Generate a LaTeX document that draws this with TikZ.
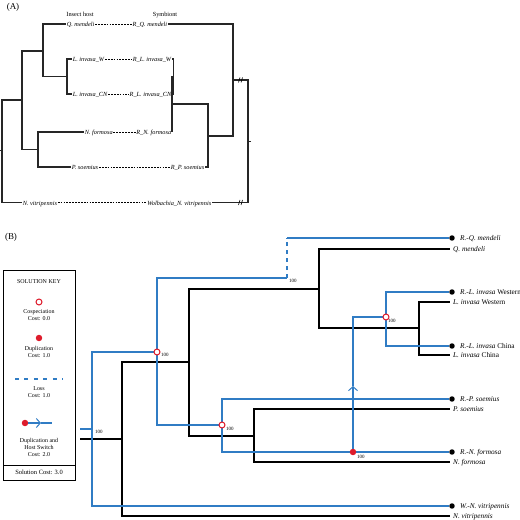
\documentclass[tikz,border=0pt]{standalone}
\usepackage{fontspec}
\setmainfont{Liberation Serif}
\usetikzlibrary{positioning,arrows.meta}
\definecolor{parablue}{RGB}{48,124,196}
\definecolor{eventred}{RGB}{222,28,44}
\tikzset{
    hosttree/.style={line width=1.2pt},
    cophytree/.style={line width=1.15pt,black!85},
    paratree/.style={parablue,line width=1.2pt},
    linkline/.style={line width=0.7pt,dash pattern=on 1.8pt off 1.1pt},
    losspath/.style={parablue,line width=1.2pt,dash pattern=on 4pt off 4pt},
    switchtip/.style={-{Straight Barb[length=4pt,width=9pt,line width=1pt]}},
    cospec/.style={circle,draw=eventred,fill=white,line width=1pt,inner sep=0pt,minimum size=6pt},
    dupl/.style={circle,fill=eventred,inner sep=0pt,minimum size=6.5pt},
    tipdot/.style={circle,fill=black,inner sep=0pt,minimum size=5.5pt},
    anames/.style={font=\fontsize{6.3}{7}\selectfont\itshape,inner sep=0.6pt,text height=1.5ex,text depth=0.25ex},
    bnames/.style={font=\fontsize{7.3}{8}\selectfont,inner sep=0pt,text height=1.5ex,text depth=0.25ex},
    support/.style={font=\fontsize{5}{5}\selectfont,inner sep=0pt,anchor=north west},
    keytext/.style={font=\fontsize{6}{7}\selectfont,align=center,inner sep=0pt},
    panel/.style={font=\fontsize{9}{10}\selectfont,inner sep=0pt}
}
\begin{document}
\begin{tikzpicture}[x=1bp,y=-1bp]
    \useasboundingbox (0,0) rectangle (520,520);
    %% ---------------- (A) tanglegram ----------------
    \node[panel] (labA) at (13,7) {(A)};
    \node[anames,font=\fontsize{6.3}{7}\selectfont] (hosthead) at (80,14) {Insect host};
    \node[anames,font=\fontsize{6.3}{7}\selectfont] (symbhead) at (165,14) {Symbiont};
    %% host names
    \node[anames,anchor=west] (hq) at (66,24) {Q. mendeli};
    \node[anames,anchor=west] (hlw) at (72,59) {L. invasa\_W};
    \node[anames,anchor=west] (hlcn) at (72,94) {L. invasa\_CN};
    \node[anames,anchor=west] (hnf) at (84,132) {N. formosa};
    \node[anames,anchor=west] (hps) at (71,167) {P. soemius};
    \node[anames,anchor=west] (hnv) at (22,202.5) {N. vitripennis};
    %% symbiont names
    \node[anames,anchor=east] (sq) at (168,24) {R\_Q. mendeli};
    \node[anames,anchor=east] (slw) at (172,59) {R\_L. invasa\_W};
    \node[anames,anchor=east] (slcn) at (172,94) {R\_L. invasa\_CN};
    \node[anames,anchor=east] (snf) at (172,132) {R\_N. formosa};
    \node[anames,anchor=east] (sps) at (205,167) {R\_P. soemius};
    \node[anames,anchor=east] (snv) at (212,202.5) {Wolbachia\_N. vitripennis};
    \foreach \h/\s in {hq/sq,hlw/slw,hlcn/slcn,hnf/snf,hps/sps,hnv/snv}
        \draw[linkline] (\h.east) -- (\s.west);
    %% host tree
    \coordinate (hstub) at (0,150.5);
    \coordinate (hroot) at (2,150.5);
    \coordinate (hQLNP) at (22,100);
    \coordinate (hQL) at (43,51);
    \coordinate (hL) at (67,76.5);
    \coordinate (hNP) at (38,149.5);
    \draw[cophytree] (hstub) -- (hroot) (hroot) |- (hQLNP) (hroot) |- (hnv.west)
        (hQLNP) |- (hQL) (hQLNP) |- (hNP) (hQL) |- (hq.west) (hQL) |- (hL)
        (hL) |- (hlw.west) (hL) |- (hlcn.west) (hNP) |- (hnf.west) (hNP) |- (hps.west);
    %% symbiont tree
    \coordinate (sstub) at (251,141.5);
    \coordinate (sroot) at (248,141.5);
    \coordinate (sQR) at (233,80);
    \coordinate (sRP) at (208,136);
    \coordinate (sLN) at (172,104);
    \coordinate (sL) at (173.5,76.5);
    \draw[cophytree] (sstub) -- (sroot) (sroot) |- (sQR) (sroot) |- (snv.east)
        (sQR) |- (sq.east) (sQR) |- (sRP) (sRP) |- (sLN) (sRP) |- (sps.east)
        (sLN) |- (sL) (sLN) |- (snf.east) (sL) |- (slw.east) (sL) |- (slcn.east);
    %% breaks on the root branches
    \foreach \y in {80,202.5}
        \draw[line width=0.6pt] (238.5,\y+2.5) -- (240,\y-2.5) (241,\y+2.5) -- (242.5,\y-2.5);
    %% ---------------- (B) reconciliation ----------------
    \node[panel] (labB) at (11,237) {(B)};
    %% solution key
    \coordinate (keyNW) at (3,270);
    \coordinate (keySE) at (75,480);
    \coordinate (keysepL) at (3,465);
    \coordinate (keysepR) at (75,465);
    \draw[line width=0.9pt] (keyNW) rectangle (keySE);
    \draw[line width=0.9pt] (keysepL) -- (keysepR);
    \node[keytext] (keytitle) at (39,282) {SOLUTION KEY};
    \node[cospec] (keycospec) at (39,302) {};
    \node[keytext] (keycospectxt) at (39,315) {Cospeciation\\Cost: 0.0};
    \node[dupl] (keydupl) at (39,338) {};
    \node[keytext] (keydupltxt) at (39,352) {Duplication\\Cost: 1.0};
    \coordinate (keylossA) at (15,379);
    \coordinate (keylossB) at (63,379);
    \draw[losspath,line width=1.4pt,dash pattern=on 4pt off 5.5pt] (keylossA) -- (keylossB);
    \node[keytext] (keylosstxt) at (39,392.5) {Loss\\Cost: 1.0};
    \node[dupl] (keyhsdot) at (25,423) {};
    \coordinate (keyhsmid) at (41,423);
    \coordinate (keyhsend) at (52,423);
    \draw[paratree,switchtip] (keyhsdot) -- (keyhsmid);
    \draw[paratree] (keyhsmid) -- (keyhsend);
    \node[keytext] (keyhstxt) at (39,447) {Duplication and\\Host Switch\\Cost: 2.0};
    \node[keytext,font=\fontsize{6.5}{7}\selectfont] (keytotal) at (39,472.5) {Solution Cost: 3.0};
    %% host tree
    \coordinate (bstub) at (80,439);
    \coordinate (broot) at (122,439);
    \coordinate (bQLPN) at (189,362);
    \coordinate (bQL) at (319,289);
    \coordinate (bL) at (419,328);
    \coordinate (bPN) at (254,436);
    \foreach \n/\y in {lq/249,llw/302,llc/355,lps/409,lnf/462,lnv/516}
        \coordinate (\n) at (450,\y);
    \draw[hosttree] (bstub) -- (broot) (broot) |- (bQLPN) (broot) |- (lnv)
        (bQLPN) |- (bQL) (bQLPN) |- (bPN) (bQL) |- (lq) (bQL) |- (bL)
        (bL) |- (llw) (bL) |- (llc) (bPN) |- (lps) (bPN) |- (lnf);
    \node[bnames,right=3pt of lq] (tq) {\textit{Q. mendeli}};
    \node[bnames,right=3pt of llw] (tlw) {\textit{L. invasa} Western};
    \node[bnames,right=3pt of llc] (tlc) {\textit{L. invasa} China};
    \node[bnames,right=3pt of lps] (tps) {\textit{P. soemius}};
    \node[bnames,right=3pt of lnf] (tnf) {\textit{N. formosa}};
    \node[bnames,right=3pt of lnv] (tnv) {\textit{N. vitripennis}};
    %% symbiont tree
    \foreach \n/\y in {dq/238,dlw/292,dlc/346,dps/399,dnf/452,dnv/506}
        \node[tipdot] (\n) at (452,\y) {};
    \coordinate (pstub) at (80,429);
    \coordinate (proot) at (92,429);
    \coordinate (p1) at (157,352);
    \coordinate (p2) at (222,425);
    \coordinate (ploss) at (287,278);
    \coordinate (plosstop) at (287,238);
    \coordinate (p4) at (386,317);
    \coordinate (pdup) at (353,452);
    \coordinate (hsmid) at (353,386);
    \draw[paratree] (pstub) -- (proot) (proot) |- (p1) (proot) |- (dnv)
        (p1) |- (ploss) (p1) |- (p2) (plosstop) -- (dq)
        (p2) |- (dps) (p2) |- (dnf) (p4) |- (dlw) (p4) |- (dlc);
    \draw[losspath] (ploss) -- (plosstop);
    \draw[paratree,switchtip] (pdup) -- (hsmid);
    \draw[paratree] (hsmid) |- (p4);
    \node[bnames,right=5pt of dq] (rq) {\textit{R.-Q. mendeli}};
    \node[bnames,right=5pt of dlw] (rlw) {\textit{R.-L. invasa} Western};
    \node[bnames,right=5pt of dlc] (rlc) {\textit{R.-L. invasa} China};
    \node[bnames,right=5pt of dps] (rps) {\textit{R.-P. soemius}};
    \node[bnames,right=5pt of dnf] (rnf) {\textit{R.-N. formosa}};
    \node[bnames,right=5pt of dnv] (rnv) {\textit{W.-N. vitripennis}};
    %% events
    \node[cospec] (c1) at (p1) {};
    \node[cospec] (c2) at (p2) {};
    \node[cospec] (c4) at (p4) {};
    \node[dupl] (d1) at (pdup) {};
    %% support values
    \node[support,below right=1pt and 3pt of proot] (s0) {100};
    \node[support,below right=1pt and 4pt of p1] (s1) {100};
    \node[support,below right=2pt and 4pt of p2] (s2) {100};
    \node[support,below right=1pt and 2pt of ploss] (s3) {100};
    \node[support,below right=2pt and 2pt of p4] (s4) {100};
    \node[support,below right=3pt and 4pt of pdup] (s5) {100};
\end{tikzpicture}
\end{document}
